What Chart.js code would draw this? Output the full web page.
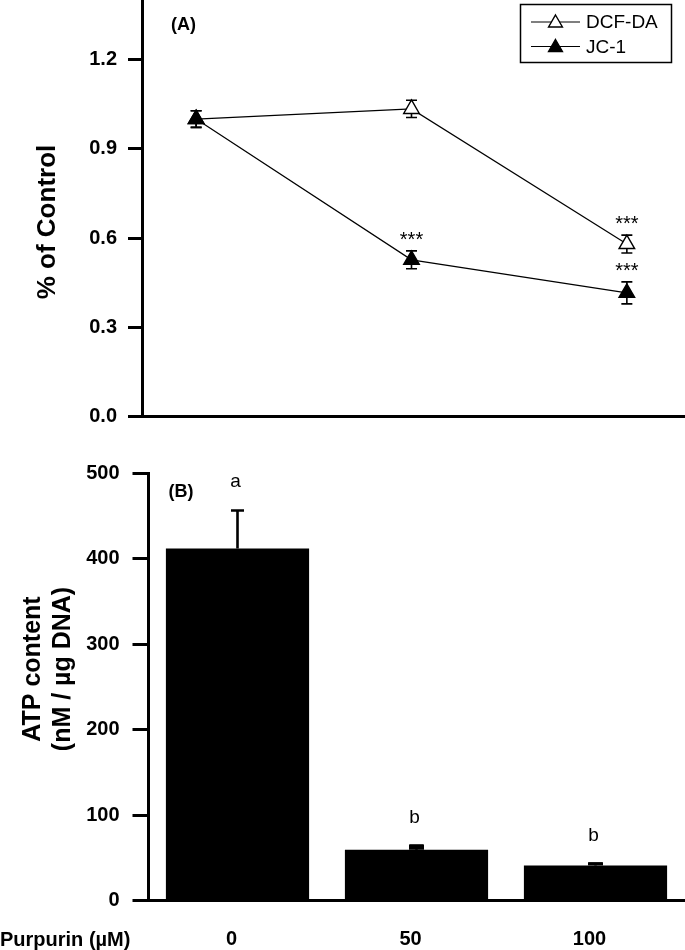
<!DOCTYPE html>
<html><head><meta charset="utf-8">
<script src="https://cdn.jsdelivr.net/npm/chart.js@4.4.0/dist/chart.umd.min.js"></script>
<style>
html,body{margin:0;padding:0;background:#fff;}
#wrap{position:relative;width:685px;height:950px;overflow:hidden;}
canvas{position:absolute;left:0;}
#c1{top:0}
#c2{top:450px}
</style></head><body>
<div id="wrap"><canvas id="c1" width="685" height="450"></canvas><canvas id="c2" width="685" height="500"></canvas></div>
<script>
const FONT = '"Liberation Sans", Arial, Helvetica, sans-serif';

// ---- Panel A data ----
const concentrations = [0, 50, 100];
const dcfLabel = 'DCF-DA';
const dcfValues = [1.00, 1.034, 0.58];
const dcfErrors = [0.028, 0.029, 0.03];
const jcLabel = 'JC-1';
const jcValues = [1.00, 0.527, 0.416];
const jcErrors = [0.028, 0.03, 0.037];
const dcfMarks = ['', '', '***'];
const jcMarks = ['', '***', '***'];
const yTicksA = [0, 0.3, 0.6, 0.9, 1.2];

// ---- Panel B data ----
const categoriesB = ['0', '50', '100'];
const atpValues = [412, 59.6, 41.3];
const atpErrors = [44.5, 4.5, 2.0];
const lettersB = ['a', 'b', 'b'];
const yTicksB = [0, 100, 200, 300, 400, 500];

function tri(ctx, x, y, r, fill, lw) {
  ctx.beginPath();
  for (let k = 0; k < 3; k++) {
    const a = k * 2 * Math.PI / 3;
    const px = x + Math.sin(a) * r, py = y - Math.cos(a) * r;
    if (k === 0) ctx.moveTo(px, py); else ctx.lineTo(px, py);
  }
  ctx.closePath();
  ctx.fillStyle = fill; ctx.fill();
  ctx.lineWidth = lw; ctx.strokeStyle = '#000'; ctx.stroke();
}

const panelA = {
  id: 'panelA',
  beforeDatasetsDraw(chart) {
    const {ctx, scales: {x, y}} = chart;
    ctx.save();
    ctx.strokeStyle = '#000'; ctx.lineWidth = 1.6;
    [[dcfValues, dcfErrors], [jcValues, jcErrors]].forEach(([vals, errs]) => {
      vals.forEach((v, i) => {
        const px = x.getPixelForValue(concentrations[i]);
        const t = y.getPixelForValue(v + errs[i]);
        const b = y.getPixelForValue(v - errs[i]);
        ctx.beginPath();
        ctx.moveTo(px, t); ctx.lineTo(px, b);
        ctx.moveTo(px - 5.5, t); ctx.lineTo(px + 5.5, t);
        ctx.moveTo(px - 5.5, b); ctx.lineTo(px + 5.5, b);
        ctx.stroke();
      });
    });
    ctx.restore();
  },
  afterDraw(chart) {
    const {ctx, scales: {x, y}} = chart;
    ctx.save();
    ctx.fillStyle = '#000';
    // significance marks
    ctx.font = '20px ' + FONT;
    ctx.textAlign = 'center'; ctx.textBaseline = 'alphabetic';
    [[dcfValues, dcfErrors, dcfMarks], [jcValues, jcErrors, jcMarks]].forEach(([vals, errs, marks]) => {
      vals.forEach((v, i) => {
        if (!marks[i]) return;
        const px = x.getPixelForValue(concentrations[i]);
        const t = y.getPixelForValue(v + errs[i]);
        ctx.fillText(marks[i], px, t - 5);
      });
    });
    // panel label
    ctx.font = 'bold 18px ' + FONT;
    ctx.textBaseline = 'middle';
    ctx.fillText('(A)', 183.5, 25.5);
    // y title
    ctx.save();
    ctx.translate(48, 222); ctx.rotate(-Math.PI / 2);
    ctx.font = 'bold 26px ' + FONT;
    ctx.fillText('% of Control', 0, 0);
    ctx.restore();
    // legend
    ctx.lineWidth = 1.5; ctx.strokeStyle = '#000';
    ctx.strokeRect(520.5, 4.5, 151, 58);
    const entries = [[dcfLabel, '#fff', 22], [jcLabel, '#000', 46.5]];
    entries.forEach(([lab, fill, ly]) => {
      ctx.beginPath(); ctx.lineWidth = 1.2;
      ctx.moveTo(531, ly); ctx.lineTo(580, ly); ctx.stroke();
      tri(ctx, 555.5, ly + 1, 8, fill, 1.4);
      ctx.fillStyle = '#000';
      ctx.font = '19px ' + FONT; ctx.textAlign = 'left'; ctx.textBaseline = 'middle';
      ctx.fillText(lab, 586, ly + 1);
    });
    ctx.restore();
  }
};

const tickFont = {family: FONT, size: 20, weight: 'bold'};

new Chart(document.getElementById('c1'), {
  type: 'line',
  data: {
    datasets: [
      {label: jcLabel, data: concentrations.map((c, i) => ({x: c, y: jcValues[i]})), order: 0,
       borderColor: '#000', borderWidth: 1.2, pointStyle: 'triangle', pointRadius: 9,
       pointBackgroundColor: '#000', pointBorderColor: '#000', pointBorderWidth: 1.4, tension: 0, clip: false},
      {label: dcfLabel, data: concentrations.map((c, i) => ({x: c, y: dcfValues[i]})), order: 1,
       borderColor: '#000', borderWidth: 1.2, pointStyle: 'triangle', pointRadius: 9,
       pointBackgroundColor: '#fff', pointBorderColor: '#000', pointBorderWidth: 1.4, tension: 0, clip: false}
    ]
  },
  options: {
    responsive: false, animation: false, events: [],
    layout: {padding: 0, autoPadding: false},
    plugins: {legend: {display: false}, tooltip: {enabled: false}},
    scales: {
      x: {type: 'linear', min: -12.5, max: 113.5,
          grid: {display: false, drawTicks: false},
          border: {display: true, color: '#000', width: 3},
          ticks: {display: false},
          afterFit(s) { s.height = 33.3; s.paddingLeft = 0; s.paddingRight = 0; }},
      y: {min: 0, max: 1.4,
          afterBuildTicks(s) { s.ticks = yTicksA.map(v => ({value: v})); },
          grid: {display: true, drawOnChartArea: false, drawTicks: true, tickLength: 14.3, tickWidth: 3, tickColor: '#000'},
          border: {display: true, color: '#000', width: 3},
          ticks: {font: tickFont, color: '#000', padding: 11, callback: v => v.toFixed(1)},
          afterFit(s) { s.width = 142.3; s.paddingTop = 0; s.paddingBottom = 0; }}
    }
  },
  plugins: [panelA]
});

const panelB = {
  id: 'panelB',
  afterDraw(chart) {
    const {ctx, scales: {x, y}} = chart;
    ctx.save();
    ctx.strokeStyle = '#000'; ctx.fillStyle = '#000';
    atpValues.forEach((v, i) => {
      const px = x.getPixelForValue(i);
      const b = y.getPixelForValue(v);
      const t = y.getPixelForValue(v + atpErrors[i]);
      ctx.lineWidth = 2.6;
      ctx.beginPath();
      ctx.moveTo(px, b); ctx.lineTo(px, t);
      ctx.moveTo(px - 6.5, t); ctx.lineTo(px + 6.5, t);
      ctx.stroke();
      if (atpErrors[i] < 10) {
        ctx.fillRect(px - 7.5, t - 1.5, 15, b - t + 1.5);
      }
      ctx.font = '19px ' + FONT; ctx.textAlign = 'center'; ctx.textBaseline = 'alphabetic';
      ctx.fillText(lettersB[i], px - 2, t - 23);
    });
    ctx.font = 'bold 18px ' + FONT; ctx.textAlign = 'center'; ctx.textBaseline = 'middle';
    ctx.fillText('(B)', 181, 42);
    ctx.font = 'bold 20px ' + FONT; ctx.textAlign = 'left';
    ctx.fillText('Purpurin (\u00b5M)', 0, 490);
    ctx.save();
    ctx.translate(33, 219); ctx.rotate(-Math.PI / 2);
    ctx.font = 'bold 25px ' + FONT; ctx.textAlign = 'center'; ctx.textBaseline = 'middle';
    ctx.fillText('ATP content', 0, 0);
    ctx.fillText('(nM / \u00b5g DNA)', 0, 30);
    ctx.restore();
    ctx.restore();
  }
};

new Chart(document.getElementById('c2'), {
  type: 'bar',
  data: {
    labels: categoriesB,
    datasets: [{data: atpValues, backgroundColor: '#000', borderWidth: 0, barPercentage: 0.8, categoryPercentage: 1}]
  },
  options: {
    responsive: false, animation: false, events: [],
    layout: {padding: {top: 23.3, left: 0, right: 0, bottom: 0}, autoPadding: false},
    plugins: {legend: {display: false}, tooltip: {enabled: false}},
    scales: {
      x: {grid: {display: false, drawTicks: false},
          border: {display: true, color: '#000', width: 3},
          ticks: {font: tickFont, color: '#000', padding: 27, labelOffset: -6},
          afterFit(s) { s.height = 49.3; s.paddingLeft = 0; s.paddingRight = 0; }},
      y: {min: 0, max: 500,
          afterBuildTicks(s) { s.ticks = yTicksB.map(v => ({value: v})); },
          grid: {display: true, drawOnChartArea: false, drawTicks: true, tickLength: 15.5, tickWidth: 3, tickColor: '#000'},
          border: {display: true, color: '#000', width: 3},
          ticks: {font: tickFont, color: '#000', padding: 13},
          afterFit(s) { s.width = 148; s.paddingTop = 0; s.paddingBottom = 0; }}
    }
  },
  plugins: [panelB]
});
</script>
</body></html>
